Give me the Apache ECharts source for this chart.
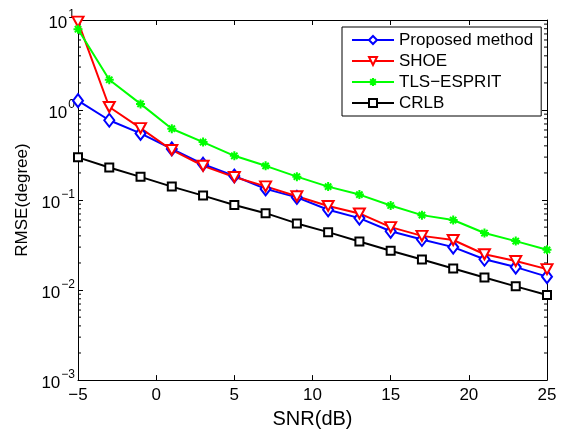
<!DOCTYPE html>
<html>
<head>
<meta charset="utf-8">
<script src="https://cdn.jsdelivr.net/npm/echarts@6/dist/echarts.min.js"></script>
<style>
html,body{margin:0;padding:0;background:#fff;}
#chart{width:561px;height:434px;}
</style>
</head>
<body>
<div id="chart"></div>
<script>
var snr = [-5, -3, -1, 1, 3, 5, 7, 9, 11, 13, 15, 17, 19, 21, 23, 25];
var proposed = [1.27, 0.77, 0.55, 0.37, 0.25, 0.185, 0.133, 0.107, 0.078, 0.063, 0.045, 0.0365, 0.030, 0.022, 0.018, 0.0141];
var shoe = [9.6, 1.08, 0.63, 0.36, 0.24, 0.18, 0.142, 0.11, 0.086, 0.071, 0.050, 0.040, 0.036, 0.025, 0.021, 0.0171];
var tlsEsprit = [7.9, 2.17, 1.17, 0.62, 0.44, 0.31, 0.24, 0.182, 0.141, 0.115, 0.087, 0.068, 0.060, 0.043, 0.035, 0.028];
var crlb = [0.298, 0.23, 0.181, 0.141, 0.112, 0.088, 0.0715, 0.055, 0.044, 0.0347, 0.0274, 0.0219, 0.0174, 0.0138, 0.011, 0.0088];
var seriesNames = ['Proposed method', 'SHOE', 'TLS\u2212ESPRIT', 'CRLB'];
var minorTickValues = [0.002, 0.003, 0.004, 0.005, 0.006, 0.007, 0.008, 0.009,
  0.02, 0.03, 0.04, 0.05, 0.06, 0.07, 0.08, 0.09,
  0.2, 0.3, 0.4, 0.5, 0.6, 0.7, 0.8, 0.9,
  2, 3, 4, 5, 6, 7, 8, 9];

var FONT = 'Liberation Sans, Arial, Helvetica, sans-serif';

function pairs(ys) { return snr.map(function (x, i) { return [x, ys[i]]; }); }
function fmtX(v) { return v < 0 ? '\u2212' + Math.abs(v) : String(v); }
function fmtY(v) {
  var e = Math.round(Math.log10(v));
  var s = e < 0 ? '\u2212' + Math.abs(e) : String(e);
  return '{b|10}{s|' + s + '}';
}

var chart = echarts.init(document.getElementById('chart'), null, {renderer: 'canvas'});
var asterisk = 'path://M5,0L5,10M0,5L10,5M1.5,1.5L8.5,8.5M1.5,8.5L8.5,1.5';

function lineSeries(name, data, color, symbol, size, extra) {
  var s = {
    name: name,
    type: 'line',
    data: pairs(data),
    symbol: symbol,
    symbolSize: size,
    showAllSymbol: true,
    clip: false,
    lineStyle: {color: color, width: 2},
    itemStyle: {color: color, borderColor: color, borderWidth: 1.6},
    emphasis: {disabled: true}
  };
  if (extra) for (var k in extra) s[k] = extra[k];
  return s;
}

var option = {
  animation: false,
  backgroundColor: '#fff',
  textStyle: {fontFamily: FONT},
  grid: {left: 78, right: 14, top: 20, bottom: 44},
  legend: {
    data: seriesNames,
    orient: 'vertical',
    left: 342,
    top: 27,
    width: 200,
    padding: [4, 8, 4, 9],
    itemGap: 3,
    itemWidth: 42,
    itemHeight: 10,
    backgroundColor: '#fff',
    borderColor: '#000',
    borderWidth: 1,
    borderRadius: 0,
    selectedMode: false,
    textStyle: {fontSize: 17, lineHeight: 18, color: '#000', fontFamily: FONT, padding: [0, 0, 0, 0]}
  },
  xAxis: [{
    type: 'value', min: -5, max: 25, interval: 5, position: 'bottom',
    name: 'SNR(dB)', nameLocation: 'middle', nameGap: 23,
    nameTextStyle: {fontSize: 20, color: '#000', fontFamily: FONT},
    axisLine: {show: true, onZero: false, lineStyle: {color: '#000', width: 1}},
    axisTick: {show: true, inside: true, length: 5, lineStyle: {color: '#000'}},
    axisLabel: {fontSize: 17, color: '#000', margin: 7, formatter: fmtX, fontFamily: FONT},
    splitLine: {show: false}
  }, {
    type: 'value', min: -5, max: 25, interval: 5, position: 'top',
    axisLine: {show: true, onZero: false, lineStyle: {color: '#000', width: 1}},
    axisTick: {show: true, inside: true, length: 5, lineStyle: {color: '#000'}},
    axisLabel: {show: false},
    splitLine: {show: false}
  }],
  yAxis: [{
    type: 'log', logBase: 10, min: 0.001, max: 10, position: 'left',
    name: 'RMSE(degree)', nameLocation: 'middle', nameGap: 43, nameRotate: 90,
    nameTextStyle: {fontSize: 17, color: '#000', fontFamily: FONT},
    axisLine: {show: true, onZero: false, lineStyle: {color: '#000', width: 1}},
    axisTick: {show: true, inside: true, length: 5, lineStyle: {color: '#000'}},
    axisLabel: {
      color: '#000', margin: 3, formatter: fmtY,
      rich: {
        b: {fontSize: 17, color: '#000', fontFamily: FONT, padding: [6, 0, 0, 0]},
        s: {fontSize: 12, color: '#000', fontFamily: FONT, padding: [0, 0, 11, 1]}
      }
    },
    splitLine: {show: false}
  }, {
    type: 'log', logBase: 10, min: 0.001, max: 10, position: 'right',
    axisLine: {show: true, onZero: false, lineStyle: {color: '#000', width: 1}},
    axisTick: {show: true, inside: true, length: 5, lineStyle: {color: '#000'}},
    axisLabel: {show: false},
    splitLine: {show: false}
  }],
  series: [
    {
      type: 'custom',
      silent: true,
      data: minorTickValues.map(function (v) { return [-5, v]; }),
      renderItem: function (params, api) {
        var v = api.value(1);
        var pl = api.coord([-5, v]);
        var pr = api.coord([25, v]);
        var st = {stroke: '#000', lineWidth: 1};
        return {
          type: 'group',
          children: [
            {type: 'line', shape: {x1: pl[0], y1: pl[1], x2: pl[0] + 3, y2: pl[1]}, style: st},
            {type: 'line', shape: {x1: pr[0], y1: pr[1], x2: pr[0] - 3, y2: pr[1]}, style: st}
          ]
        };
      }
    },
    lineSeries(seriesNames[0], proposed, '#0000ff', 'emptyDiamond', [10, 13]),
    lineSeries(seriesNames[1], shoe, '#ff0000', 'emptyTriangle', [11, 10], {symbolRotate: 180}),
    lineSeries(seriesNames[2], tlsEsprit, '#00ff00', asterisk, 9, {itemStyle: {color: '#00ff00', borderColor: '#00ff00', borderWidth: 2}}),
    lineSeries(seriesNames[3], crlb, '#000000', 'emptyRect', 8)
  ]
};
chart.setOption(option);
</script>
</body>
</html>
